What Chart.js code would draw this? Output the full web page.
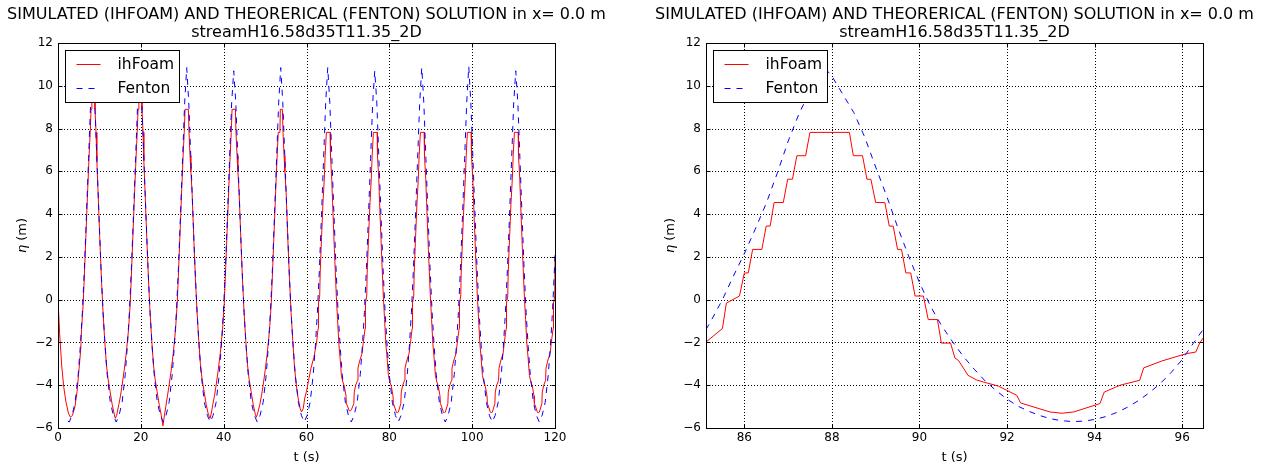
<!DOCTYPE html>
<html lang="en">
<head>
<meta charset="UTF-8" />
<title>ihFoam vs Fenton</title>
<script src="https://cdn.jsdelivr.net/npm/chart.js"></script>
<style>
  html, body { margin: 0; padding: 0; background: #fff; }
  #wrap { position: relative; width: 1268px; height: 468px; }
  .panel { position: absolute; top: 0; width: 634px; height: 468px; }
</style>
</head>
<body>
<div id="wrap">
  <div class="panel" style="left:0"><canvas id="leftChart" width="634" height="468"></canvas></div>
  <div class="panel" style="left:634px"><canvas id="rightChart" width="634" height="468"></canvas></div>
</div>

<script>
// ---- data ----
const titleLine1 = 'SIMULATED (IHFOAM) AND THEORERICAL (FENTON) SOLUTION in x= 0.0 m';
const titleLine2 = 'streamH16.58d35T11.35_2D';
const seriesNames = ['ihFoam', 'Fenton'];
const xLabel = 't (s)';
const yLabel = ['\u03b7', ' (m)'];

const xTicksLeft = [0, 20, 40, 60, 80, 100, 120];
const xTicksRight = [86, 88, 90, 92, 94, 96];
const yTicks = [-6, -4, -2, 0, 2, 4, 6, 8, 10, 12];

// left panel, whole record [t, eta]
const ihFoamLeft = [
  [0,0],[0.4,-1.6],[0.9,-3.1],[1.4,-4.1],[1.9,-4.75],[2.5,-5.3],[3.0,-5.5],[3.5,-5.4],[4.1,-5.0],[4.6,-4.3],[5.1,-3.2],[5.5,-2.3],
  [5.68,-1.4],[6.08,-0.2],[6.38,1.2],[6.78,3.2],[7.18,5.2],[7.53,6.8],[7.78,7.82],[7.98,8.9],[8.18,10.0],[8.78,10.0],[8.93,8.9],[9.18,7.82],[9.38,6.5],[9.68,5.0],[10.08,2.9],[10.48,1.0],[10.88,-0.6],[11.28,-1.9],[11.68,-3.0],[12.08,-3.7],[12.58,-4.3],[13.08,-4.9],[13.58,-5.35],[13.83,-5.55],[14.18,-5.4],[14.68,-4.9],[15.08,-4.5],[15.48,-4.0],[15.98,-3.3],[16.48,-2.5],
  [17.03,-1.4],[17.43,-0.2],[17.73,1.2],[18.13,3.2],[18.53,5.2],[18.88,6.8],[19.13,7.82],[19.33,8.9],[19.53,10.0],[20.13,10.0],[20.28,8.9],[20.53,7.82],[20.73,6.5],[21.03,5.0],[21.43,2.9],[21.83,1.0],[22.23,-0.6],[22.63,-1.9],[23.03,-3.0],[23.43,-3.7],[23.93,-4.3],[24.43,-4.9],[24.93,-5.4],[25.33,-5.9],[25.63,-5.5],[26.03,-5.0],[26.43,-4.5],[26.83,-4.0],[27.33,-3.3],[27.83,-2.5],
  [28.38,-1.4],[28.78,-0.2],[29.08,1.2],[29.48,3.2],[29.88,5.2],[30.23,6.8],[30.48,7.82],[30.68,8.9],[31.48,8.9],[31.63,7.82],[31.88,6.73],[32.08,6.0],[32.38,5.0],[32.78,2.9],[33.18,1.0],[33.58,-0.6],[33.98,-1.9],[34.38,-3.0],[34.78,-3.7],[35.28,-4.3],[35.78,-4.9],[36.28,-5.35],[36.7,-5.55],[37.03,-5.3],[37.38,-4.9],[37.78,-4.5],[38.18,-4.0],[38.68,-3.3],[39.18,-2.5],
  [39.73,-1.4],[40.13,-0.2],[40.43,1.2],[40.83,3.2],[41.23,5.2],[41.58,6.8],[41.83,7.82],[42.03,8.9],[42.83,8.9],[42.98,7.82],[43.23,6.73],[43.43,6.0],[43.73,5.0],[44.13,2.9],[44.53,1.0],[44.93,-0.6],[45.33,-1.9],[45.73,-3.0],[46.13,-3.7],[46.63,-4.3],[47.13,-4.9],[47.63,-5.35],[47.88,-5.5],[48.23,-5.3],[48.73,-4.9],[49.13,-4.5],[49.53,-4.0],[50.03,-3.3],[50.53,-2.5],
  [51.08,-1.4],[51.48,-0.2],[51.78,1.2],[52.18,3.2],[52.58,5.2],[52.93,6.8],[53.18,7.82],[53.58,7.82],[53.68,8.9],[54.18,8.9],[54.33,7.82],[54.58,6.73],[54.78,6.0],[55.08,5.0],[55.48,2.9],[55.88,1.0],[56.28,-0.6],[56.68,-1.9],[57.08,-3.1],[57.48,-3.9],[57.98,-4.6],[58.48,-5.1],[58.8,-5.25],[59.2,-5.1],[59.58,-4.6],[59.98,-4.3],[60.48,-3.8],[61.08,-3.2],[61.78,-2.7],[62.43,-2.0],
  [62.80,-1.35],[62.89,-0.16],[63.19,0.17],[63.30,1.25],[63.63,2.9],[63.98,4.54],[64.29,5.63],[64.50,6.73],[64.80,7.82],[65.70,7.82],[65.79,6.73],[66.10,5.63],[66.30,4.54],[66.73,2.35],[67.20,0.17],[67.50,-0.93],[67.80,-2.03],[68.11,-2.73],[68.43,-3.55],[68.78,-3.85],[69.13,-4.05],[69.53,-4.5],[69.63,-4.85],[70.33,-5.2],[70.58,-5.2],[70.83,-5.15],[71.43,-4.86],[71.53,-4.32],[71.88,-4.0],[72.33,-3.77],[72.43,-3.2],[72.83,-2.87],[73.43,-2.5],[73.68,-2.05],
  [74.15,-1.35],[74.24,-0.16],[74.54,0.17],[74.65,1.25],[74.98,2.9],[75.33,4.54],[75.64,5.63],[75.85,6.73],[76.15,7.82],[77.05,7.82],[77.14,6.73],[77.45,5.63],[77.65,4.54],[78.08,2.35],[78.55,0.17],[78.85,-0.93],[79.15,-2.03],[79.46,-2.73],[79.78,-3.55],[80.13,-3.85],[80.48,-4.05],[80.88,-4.5],[80.98,-4.85],[81.68,-5.25],[81.93,-5.3],[82.18,-5.25],[82.78,-4.86],[82.88,-4.32],[83.23,-4.0],[83.68,-3.77],[83.78,-3.2],[84.18,-2.87],[84.78,-2.5],[85.03,-2.05],
  [85.13,-1.98],[85.50,-1.35],[85.59,-0.16],[85.89,0.17],[86.00,1.25],[86.33,2.9],[86.68,4.54],[86.99,5.63],[87.20,6.73],[87.50,7.82],[88.40,7.82],[88.49,6.73],[88.80,5.63],[89.00,4.54],[89.43,2.35],[89.90,0.17],[90.20,-0.93],[90.50,-2.03],[90.81,-2.73],[91.13,-3.55],[91.48,-3.85],[91.83,-4.05],[92.23,-4.5],[92.33,-4.85],[93.03,-5.25],[93.28,-5.3],[93.53,-5.25],[94.13,-4.86],[94.23,-4.32],[94.58,-4.0],[95.03,-3.77],[95.13,-3.2],[95.53,-2.87],[96.13,-2.5],[96.38,-2.05],
  [96.85,-1.35],[96.94,-0.16],[97.24,0.17],[97.35,1.25],[97.68,2.9],[98.03,4.54],[98.34,5.63],[98.55,6.73],[98.85,7.82],[99.75,7.82],[99.84,6.73],[100.15,5.63],[100.35,4.54],[100.78,2.35],[101.25,0.17],[101.55,-0.93],[101.85,-2.03],[102.16,-2.73],[102.48,-3.55],[102.83,-3.85],[103.18,-4.05],[103.58,-4.5],[103.68,-4.85],[104.38,-5.25],[104.63,-5.3],[104.88,-5.25],[105.48,-4.86],[105.58,-4.32],[105.93,-4.0],[106.38,-3.77],[106.48,-3.2],[106.88,-2.87],[107.48,-2.5],[107.73,-2.05],
  [108.20,-1.35],[108.29,-0.16],[108.59,0.17],[108.70,1.25],[109.03,2.9],[109.38,4.54],[109.69,5.63],[109.90,6.73],[110.20,7.82],[111.10,7.82],[111.19,6.73],[111.50,5.63],[111.70,4.54],[112.13,2.35],[112.60,0.17],[112.90,-0.93],[113.20,-2.03],[113.51,-2.73],[113.83,-3.55],[114.18,-3.85],[114.53,-4.05],[114.93,-4.5],[115.03,-4.85],[115.73,-5.25],[115.98,-5.3],[116.23,-5.25],[116.83,-4.86],[116.93,-4.32],[117.28,-4.0],[117.73,-3.77],[117.83,-3.2],[118.23,-2.87],[118.83,-2.5],[119.08,-2.05],
  [119.55,-1.35],[119.64,-0.16],[119.94,0.17],[120.0,2.0]
];

const fentonLeft = [
  [2.4,-5.68],[2.705,-5.72],[3.38,-5.42],[4.13,-4.8],[4.88,-3.5],[5.38,-2.2],[5.88,-0.6],[6.38,1.5],[6.88,4.0],[7.38,6.6],[7.88,9.2],[8.38,10.8],[8.88,9.2],[9.38,6.6],[9.88,4.0],[10.38,1.5],[10.88,-0.6],[11.38,-2.2],[11.88,-3.5],[12.63,-4.8],[13.38,-5.42],[14.055,-5.72],
  [14.73,-5.42],[15.48,-4.8],[16.23,-3.5],[16.73,-2.2],[17.23,-0.6],[17.73,1.5],[18.23,4.0],[18.73,6.6],[19.23,9.2],[19.73,10.8],[20.23,9.2],[20.73,6.6],[21.23,4.0],[21.73,1.5],[22.23,-0.6],[22.73,-2.2],[23.23,-3.5],[23.98,-4.8],[24.73,-5.42],[25.405,-5.72],
  [26.08,-5.42],[26.83,-4.8],[27.58,-3.5],[28.08,-2.2],[28.58,-0.6],[29.08,1.5],[29.58,4.0],[30.08,6.6],[30.58,9.2],[31.08,10.85],[31.58,9.2],[32.08,6.6],[32.58,4.0],[33.08,1.5],[33.58,-0.6],[34.08,-2.2],[34.58,-3.5],[35.33,-4.8],[36.08,-5.42],[36.755,-5.72],
  [37.43,-5.42],[38.18,-4.8],[38.93,-3.5],[39.43,-2.2],[39.93,-0.6],[40.43,1.5],[40.93,4.0],[41.43,6.6],[41.93,9.2],[42.43,10.7],[42.93,9.2],[43.43,6.6],[43.93,4.0],[44.43,1.5],[44.93,-0.6],[45.43,-2.2],[45.93,-3.5],[46.68,-4.8],[47.43,-5.42],[48.105,-5.72],
  [48.78,-5.42],[49.53,-4.8],[50.28,-3.5],[50.78,-2.2],[51.28,-0.6],[51.78,1.5],[52.28,4.0],[52.78,6.6],[53.28,9.2],[53.78,10.85],[54.28,9.2],[54.78,6.6],[55.28,4.0],[55.78,1.5],[56.28,-0.6],[56.78,-2.2],[57.28,-3.5],[58.03,-4.8],[58.78,-5.42],[59.455,-5.72],
  [60.13,-5.42],[60.88,-4.8],[61.63,-3.5],[62.13,-2.2],[62.63,-0.6],[63.13,1.5],[63.63,4.0],[64.13,6.6],[64.63,9.2],[65.13,10.85],[65.63,9.2],[66.13,6.6],[66.63,4.0],[67.13,1.5],[67.63,-0.6],[68.13,-2.2],[68.63,-3.5],[69.38,-4.8],[70.13,-5.42],[70.805,-5.72],
  [71.48,-5.42],[72.23,-4.8],[72.98,-3.5],[73.48,-2.2],[73.98,-0.6],[74.48,1.5],[74.98,4.0],[75.48,6.6],[75.98,9.2],[76.48,10.7],[76.98,9.2],[77.48,6.6],[77.98,4.0],[78.48,1.5],[78.98,-0.6],[79.48,-2.2],[79.98,-3.5],[80.73,-4.8],[81.48,-5.42],[82.155,-5.72],
  [82.83,-5.42],[83.58,-4.8],[84.33,-3.5],[84.83,-2.2],[85.33,-0.6],[85.83,1.5],[86.33,4.0],[86.83,6.6],[87.33,9.2],[87.83,10.85],[88.33,9.2],[88.83,6.6],[89.33,4.0],[89.83,1.5],[90.33,-0.6],[90.83,-2.2],[91.33,-3.5],[92.08,-4.8],[92.83,-5.42],[93.505,-5.72],
  [94.18,-5.42],[94.93,-4.8],[95.68,-3.5],[96.18,-2.2],[96.68,-0.6],[97.18,1.5],[97.68,4.0],[98.18,6.6],[98.68,9.2],[99.18,10.9],[99.68,9.2],[100.18,6.6],[100.68,4.0],[101.18,1.5],[101.68,-0.6],[102.18,-2.2],[102.68,-3.5],[103.43,-4.8],[104.18,-5.42],[104.855,-5.72],
  [105.53,-5.42],[106.28,-4.8],[107.03,-3.5],[107.53,-2.2],[108.03,-0.6],[108.53,1.5],[109.03,4.0],[109.53,6.6],[110.03,9.2],[110.53,10.7],[111.03,9.2],[111.53,6.6],[112.03,4.0],[112.53,1.5],[113.03,-0.6],[113.53,-2.2],[114.03,-3.5],[114.78,-4.8],[115.53,-5.42],[116.205,-5.72],
  [116.88,-5.42],[117.63,-4.8],[118.38,-3.5],[118.88,-2.2],[119.38,-0.6],[119.88,1.5],[120.0,2.1]
];

// right panel, one period zoom [t, eta]
const ihFoamRight = [
  [85.125,-1.98],[85.5,-1.35],[85.59,-0.16],[85.89,0.17],[86.0,1.25],[86.09,1.25],[86.19,2.35],[86.4,2.35],[86.5,3.44],[86.59,3.44],
  [86.68,4.54],[86.89,4.54],[86.99,5.63],[87.1,5.63],[87.2,6.73],[87.4,6.73],[87.5,7.82],[88.4,7.82],[88.49,6.73],[88.7,6.73],
  [88.8,5.63],[88.89,5.63],[89.0,4.54],[89.21,4.54],[89.31,3.44],[89.4,3.44],[89.5,2.35],[89.59,2.35],[89.69,1.25],[89.8,1.25],
  [89.9,0.17],[90.09,0.17],[90.2,-0.93],[90.41,-0.93],[90.5,-2.03],[90.71,-2.03],[90.81,-2.73],[90.89,-2.84],[91.11,-3.54],[91.3,-3.75],
  [91.46,-3.85],[91.8,-4.04],[92.22,-4.47],[92.31,-4.83],[92.98,-5.25],[93.25,-5.31],[93.52,-5.25],[94.12,-4.86],[94.22,-4.32],[94.58,-4.0],
  [95.03,-3.77],[95.12,-3.19],[95.53,-2.87],[96.1,-2.52],[96.31,-2.45],[96.4,-2.03],[96.475,-1.8]
];

const fentonRight = [
  [85.125,-1.4],[85.25,-0.95],[85.5,0.0],[85.75,1.1],[86.0,2.15],[86.25,3.3],[86.5,4.5],[86.75,5.9],[87.0,7.4],[87.25,8.7],
  [87.5,9.75],[87.7,10.5],[87.85,10.8],[88.0,10.45],[88.25,9.6],[88.5,8.75],[88.75,7.6],[89.0,6.2],[89.25,4.85],[89.5,3.4],
  [89.75,2.05],[90.0,0.8],[90.25,-0.3],[90.5,-1.2],[90.75,-1.95],[91.0,-2.65],[91.25,-3.25],[91.5,-3.8],[91.75,-4.25],[92.0,-4.65],
  [92.25,-4.98],[92.5,-5.22],[92.75,-5.42],[93.0,-5.57],[93.25,-5.66],[93.5,-5.7],[93.75,-5.68],[94.0,-5.6],[94.25,-5.47],[94.5,-5.28],
  [94.75,-5.03],[95.0,-4.72],[95.25,-4.35],[95.5,-3.92],[95.75,-3.4],[96.0,-2.8],[96.25,-2.05],[96.475,-1.4]
];

const RED = '#ff0000';
const BLUE = '#0000ff';
const FONT = 'DejaVu Sans';

const pts = arr => arr.map(([x, y]) => ({ x, y }));
const fmt = v => (v < 0 ? '\u2212' + Math.abs(v) : String(v));

// matplotlib-ish frame: dotted grid, inward ticks, boxed legend, titles, axis labels
const mplFrame = {
  id: 'mplFrame',
  beforeDatasetsDraw(chart) {
    const { ctx, chartArea: a, scales: { x, y } } = chart;
    ctx.save();
    ctx.strokeStyle = '#000';
    ctx.lineWidth = 1;
    ctx.setLineDash([1, 2]);
    x.ticks.forEach(t => {
      const px = Math.round(x.getPixelForValue(t.value)) + 0.5;
      ctx.beginPath(); ctx.moveTo(px, a.top); ctx.lineTo(px, a.bottom); ctx.stroke();
    });
    y.ticks.forEach(t => {
      const py = Math.round(y.getPixelForValue(t.value)) + 0.5;
      ctx.beginPath(); ctx.moveTo(a.left, py); ctx.lineTo(a.right, py); ctx.stroke();
    });
    ctx.restore();
  },
  afterDraw(chart) {
    const { ctx, chartArea: a, scales: { x, y } } = chart;
    const L = Math.round(a.left) + 0.5, R = Math.round(a.right) + 0.5;
    const T = Math.round(a.top) + 0.5, B = Math.round(a.bottom) + 0.5;
    ctx.save();
    ctx.strokeStyle = '#000';
    ctx.lineWidth = 1;
    ctx.setLineDash([]);

    // inward ticks on all four sides
    const tl = 4;
    x.ticks.forEach(t => {
      const px = Math.round(x.getPixelForValue(t.value)) + 0.5;
      ctx.beginPath();
      ctx.moveTo(px, B); ctx.lineTo(px, B - tl);
      ctx.moveTo(px, T); ctx.lineTo(px, T + tl);
      ctx.stroke();
    });
    y.ticks.forEach(t => {
      const py = Math.round(y.getPixelForValue(t.value)) + 0.5;
      ctx.beginPath();
      ctx.moveTo(L, py); ctx.lineTo(L + tl, py);
      ctx.moveTo(R, py); ctx.lineTo(R - tl, py);
      ctx.stroke();
    });
    ctx.strokeRect(L, T, R - L, B - T);

    // legend box
    const lx = L + 7, ly = T + 7;
    ctx.fillStyle = '#fff';
    ctx.fillRect(lx, ly, 114, 52);
    ctx.strokeRect(lx, ly, 114, 52);
    const rows = [
      { name: seriesNames[0], color: RED, dash: [], y: ly + 13.5 },
      { name: seriesNames[1], color: BLUE, dash: [6, 6], y: ly + 37 }
    ];
    ctx.font = '15.5px "' + FONT + '"';
    ctx.textBaseline = 'middle';
    ctx.textAlign = 'left';
    rows.forEach(r => {
      ctx.strokeStyle = r.color;
      ctx.setLineDash(r.dash);
      ctx.beginPath();
      ctx.moveTo(lx + 11, Math.round(r.y) + 0.5);
      ctx.lineTo(lx + 35, Math.round(r.y) + 0.5);
      ctx.stroke();
      ctx.fillStyle = '#000';
      ctx.fillText(r.name, lx + 52, r.y + 1);
    });
    ctx.setLineDash([]);

    // titles
    const cx = (a.left + a.right) / 2;
    ctx.fillStyle = '#000';
    ctx.textAlign = 'center';
    ctx.textBaseline = 'alphabetic';
    ctx.font = '16px "' + FONT + '"';
    ctx.fillText(titleLine1, cx, 19);
    ctx.fillText(titleLine2, cx, 37);

    // axis labels
    ctx.font = '13px "' + FONT + '"';
    ctx.fillText(xLabel, cx, 461);

    ctx.translate(a.left - 35, (a.top + a.bottom) / 2);
    ctx.rotate(-Math.PI / 2);
    ctx.textBaseline = 'middle';
    ctx.textAlign = 'left';
    ctx.font = 'italic 13px "' + FONT + '"';
    const w1 = ctx.measureText(yLabel[0]).width;
    ctx.font = '13px "' + FONT + '"';
    const w2 = ctx.measureText(yLabel[1]).width;
    const sx = -(w1 + w2) / 2;
    ctx.font = 'italic 13px "' + FONT + '"';
    ctx.fillText(yLabel[0], sx, 0);
    ctx.font = '13px "' + FONT + '"';
    ctx.fillText(yLabel[1], sx + w1, 0);
    ctx.restore();
  }
};

function makeChart(id, cfg) {
  const tickFont = { family: FONT, size: 12 };
  return new Chart(document.getElementById(id), {
    type: 'line',
    data: {
      datasets: [
        { label: seriesNames[0], data: pts(cfg.ihFoam), borderColor: RED, borderWidth: 1,
          pointRadius: 0, tension: 0, fill: false, order: 1, borderJoinStyle: 'round' },
        { label: seriesNames[1], data: pts(cfg.fenton), borderColor: BLUE, borderWidth: 1,
          borderDash: [6, 6], pointRadius: 0, tension: 0, fill: false, order: 0 }
      ]
    },
    options: {
      responsive: false,
      animation: false,
      events: [],
      layout: { padding: { top: 43, right: cfg.padRight, left: 0, bottom: 0 } },
      plugins: { legend: { display: false }, tooltip: { enabled: false }, title: { display: false } },
      scales: {
        x: {
          type: 'linear', min: cfg.xMin, max: cfg.xMax,
          afterBuildTicks: s => { s.ticks = cfg.xTicks.map(v => ({ value: v })); },
          afterFit: s => { s.height = 40; },
          grid: { display: false, drawTicks: false },
          border: { display: false },
          ticks: { padding: 3, color: '#000', font: tickFont, maxRotation: 0, autoSkip: false, callback: fmt }
        },
        y: {
          type: 'linear', min: -6, max: 12,
          afterBuildTicks: s => { s.ticks = yTicks.map(v => ({ value: v })); },
          afterFit: s => { s.width = cfg.yWidth; },
          grid: { display: false, drawTicks: false },
          border: { display: false },
          ticks: { padding: 5, color: '#000', font: tickFont, autoSkip: false, callback: fmt }
        }
      }
    },
    plugins: [mplFrame]
  });
}

makeChart('leftChart', {
  ihFoam: ihFoamLeft, fenton: fentonLeft,
  xMin: 0, xMax: 120, xTicks: xTicksLeft,
  yWidth: 58, padRight: 79
});

makeChart('rightChart', {
  ihFoam: ihFoamRight, fenton: fentonRight,
  xMin: 85.125, xMax: 96.475, xTicks: xTicksRight,
  yWidth: 72, padRight: 65
});
</script>
</body>
</html>
